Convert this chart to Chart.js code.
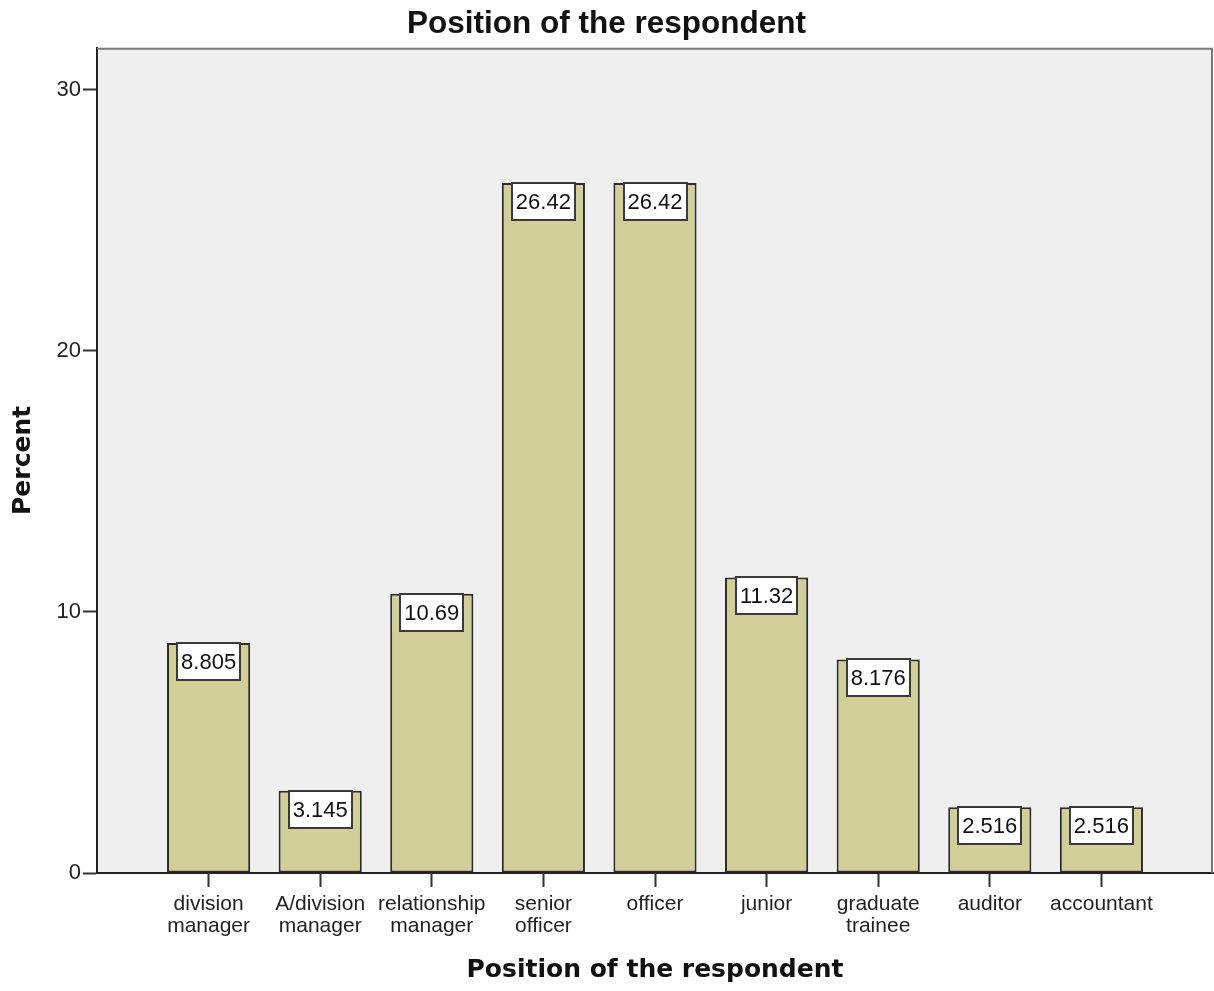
<!DOCTYPE html>
<html>
<head>
<meta charset="utf-8">
<script src="https://cdn.jsdelivr.net/npm/chart.js@4.4.1/dist/chart.umd.min.js"></script>
<style>
  html, body { margin: 0; padding: 0; background: #ffffff; }
  #wrap { width: 1214px; height: 991px; position: relative; }
</style>
</head>
<body>
<div id="wrap"><canvas id="chart"></canvas></div>
<script>
// Respondent positions (multi-line tick labels) and their share in percent
const categories = [
  ['division', 'manager'],
  ['A/division', 'manager'],
  ['relationship', 'manager'],
  ['senior', 'officer'],
  ['officer'],
  ['junior'],
  ['graduate', 'trainee'],
  ['auditor'],
  ['accountant']
];
const percents = [8.805, 3.145, 10.69, 26.42, 26.42, 11.32, 8.176, 2.516, 2.516];
const yTicks = [0, 10, 20, 30];

const BAR_FILL = '#D3CE97';
const INK = '#222222';

// Light grey plotting panel with a thin frame on top and right
const panelPlugin = {
  id: 'panel',
  beforeDraw(chart) {
    const { ctx, chartArea: a } = chart;
    ctx.save();
    ctx.fillStyle = '#EFEFEF';
    ctx.fillRect(a.left, a.top, a.right - a.left, a.bottom - a.top);
    ctx.restore();
  },
  afterDraw(chart) {
    const { ctx, chartArea: a } = chart;
    ctx.save();
    ctx.strokeStyle = '#7a7a7a';
    ctx.lineWidth = 2;
    ctx.beginPath();
    ctx.moveTo(a.left, a.top + 1);
    ctx.lineTo(a.right - 1, a.top + 1);
    ctx.lineTo(a.right - 1, a.bottom);
    ctx.stroke();
    ctx.restore();
  }
};

// Boxed value labels hanging from the top of each bar
const valueBoxPlugin = {
  id: 'valueBoxes',
  afterDatasetsDraw(chart) {
    const { ctx } = chart;
    const meta = chart.getDatasetMeta(0);
    const ds = chart.data.datasets[0];
    ctx.save();
    ctx.font = '22px "Liberation Sans", Arial, sans-serif';
    ctx.textAlign = 'center';
    ctx.textBaseline = 'middle';
    meta.data.forEach((bar, i) => {
      const text = String(ds.data[i].y);
      const w = Math.round(ctx.measureText(text).width) + 8;
      const h = 37;
      const x = Math.round(bar.x - w / 2);
      const y = Math.round(bar.y);
      ctx.fillStyle = '#ffffff';
      ctx.fillRect(x, y, w, h);
      ctx.strokeStyle = '#3a3a3a';
      ctx.lineWidth = 2;
      ctx.strokeRect(x, y, w, h);
      ctx.fillStyle = '#111111';
      ctx.fillText(text, bar.x, y + h / 2 + 1);
    });
    ctx.restore();
  }
};

new Chart(document.getElementById('chart'), {
  type: 'bar',
  data: {
    datasets: [{
      label: 'Percent',
      data: percents.map((v, i) => ({ x: i + 1, y: v })),
      backgroundColor: BAR_FILL,
      borderColor: '#2b2b2b',
      borderWidth: 2,
      borderSkipped: false,
      categoryPercentage: 1,
      barPercentage: 0.745
    }]
  },
  options: {
    responsive: true,
    maintainAspectRatio: false,
    animation: false,
    layout: { padding: { left: 0, right: 1, top: 0, bottom: 0 } },
    plugins: {
      legend: { display: false },
      tooltip: { enabled: false },
      title: {
        display: true,
        text: 'Position of the respondent',
        color: '#111111',
        font: { family: '"Liberation Sans", Arial, sans-serif', size: 31.5, weight: 'bold', lineHeight: 1.2 },
        padding: { top: 5, bottom: 5 }
      }
    },
    scales: {
      x: {
        type: 'linear',
        offset: false,
        min: 0,
        max: categories.length + 1,
        afterBuildTicks(scale) {
          scale.ticks = categories.map((c, i) => ({ value: i + 1 }));
        },
        afterFit(scale) { scale.height = 118; },
        ticks: {
          autoSkip: false,
          maxRotation: 0,
          minRotation: 0,
          padding: 6,
          color: INK,
          font: { family: '"Liberation Sans", Arial, sans-serif', size: 21, lineHeight: 1.05 },
          callback: (value) => categories[value - 1]
        },
        grid: { offset: false, drawOnChartArea: false, drawTicks: true, tickLength: 14, tickWidth: 2, tickColor: '#333333' },
        border: { display: true, color: INK, width: 2 },
        title: {
          display: true,
          text: 'Position of the respondent',
          color: '#111111',
          font: { family: '"DejaVu Sans", Verdana, sans-serif', size: 25, weight: 'bold', lineHeight: 1.2 },
          padding: { top: 0, bottom: 6 }
        }
      },
      y: {
        min: 0,
        max: 31.6,
        afterBuildTicks(scale) {
          scale.ticks = yTicks.map(v => ({ value: v }));
        },
        afterFit(scale) { scale.width = 97; },
        ticks: {
          padding: 2,
          color: INK,
          font: { family: '"Liberation Sans", Arial, sans-serif', size: 22 }
        },
        grid: { drawOnChartArea: false, drawTicks: true, tickLength: 14, tickWidth: 2, tickColor: '#333333' },
        border: { display: true, color: INK, width: 2 },
        title: {
          display: true,
          text: 'Percent',
          color: '#111111',
          font: { family: '"DejaVu Sans", Verdana, sans-serif', size: 25, weight: 'bold', lineHeight: 1.2 },
          padding: { top: 8, bottom: 0 }
        }
      }
    }
  },
  plugins: [panelPlugin, valueBoxPlugin]
});
</script>
</body>
</html>
